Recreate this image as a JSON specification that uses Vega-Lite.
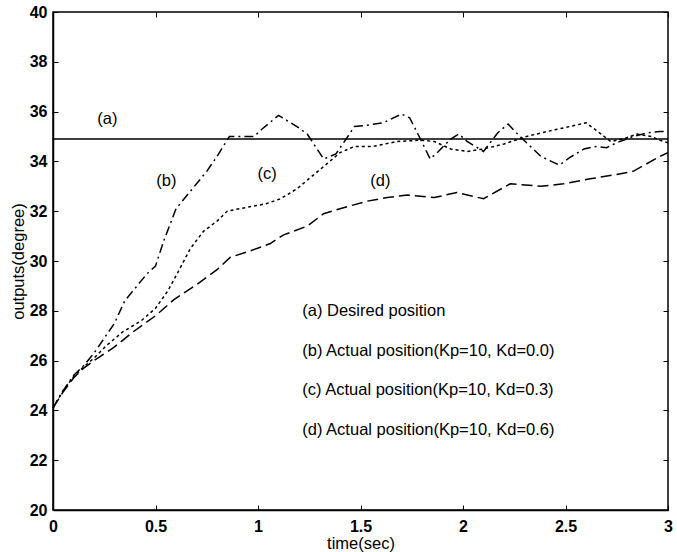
{
  "$schema": "https://vega.github.io/schema/vega-lite/v6.json",
  "autosize": "none",
  "width": 615,
  "height": 498,
  "padding": {"left": 53, "top": 12, "right": 9, "bottom": 42},
  "background": "white",
  "config": {
    "view": {"stroke": "black", "strokeWidth": 1.5},
    "font": "Liberation Sans",
    "axis": {
      "domainColor": "black", "domainWidth": 1.5,
      "tickColor": "black", "tickSize": -5, "tickWidth": 1,
      "labelColor": "black", "labelFont": "Liberation Sans", "labelFontSize": 16, "labelFontWeight": "bold",
      "titleColor": "black", "titleFont": "Liberation Sans", "titleFontSize": 16.5, "titleFontWeight": "normal",
      "grid": false
    }
  },
  "datasets": {
    "lines": [
      {"s": "a", "t": 0, "v": 34.9}, {"s": "a", "t": 3, "v": 34.9},
      {"s": "b", "t": 0, "v": 24.1}, {"s": "b", "t": 0.05, "v": 24.8}, {"s": "b", "t": 0.1, "v": 25.4}, {"s": "b", "t": 0.15, "v": 25.8}, {"s": "b", "t": 0.2, "v": 26.3}, {"s": "b", "t": 0.25, "v": 26.9}, {"s": "b", "t": 0.3, "v": 27.5}, {"s": "b", "t": 0.35, "v": 28.4}, {"s": "b", "t": 0.4, "v": 28.9}, {"s": "b", "t": 0.46, "v": 29.5}, {"s": "b", "t": 0.5, "v": 29.8}, {"s": "b", "t": 0.54, "v": 30.8}, {"s": "b", "t": 0.6, "v": 32.1}, {"s": "b", "t": 0.65, "v": 32.6}, {"s": "b", "t": 0.7, "v": 33.1}, {"s": "b", "t": 0.75, "v": 33.6}, {"s": "b", "t": 0.8, "v": 34.2}, {"s": "b", "t": 0.86, "v": 35.0}, {"s": "b", "t": 0.98, "v": 35.0}, {"s": "b", "t": 1.02, "v": 35.3}, {"s": "b", "t": 1.1, "v": 35.85}, {"s": "b", "t": 1.19, "v": 35.4}, {"s": "b", "t": 1.24, "v": 35.1}, {"s": "b", "t": 1.32, "v": 34.1}, {"s": "b", "t": 1.38, "v": 34.3}, {"s": "b", "t": 1.43, "v": 34.9}, {"s": "b", "t": 1.47, "v": 35.4}, {"s": "b", "t": 1.53, "v": 35.45}, {"s": "b", "t": 1.61, "v": 35.55}, {"s": "b", "t": 1.7, "v": 35.9}, {"s": "b", "t": 1.74, "v": 35.75}, {"s": "b", "t": 1.78, "v": 35.1}, {"s": "b", "t": 1.84, "v": 34.1}, {"s": "b", "t": 1.88, "v": 34.4}, {"s": "b", "t": 1.94, "v": 34.9}, {"s": "b", "t": 1.98, "v": 35.1}, {"s": "b", "t": 2.02, "v": 34.8}, {"s": "b", "t": 2.1, "v": 34.4}, {"s": "b", "t": 2.17, "v": 35.15}, {"s": "b", "t": 2.22, "v": 35.5}, {"s": "b", "t": 2.26, "v": 35.15}, {"s": "b", "t": 2.31, "v": 34.75}, {"s": "b", "t": 2.38, "v": 34.2}, {"s": "b", "t": 2.47, "v": 33.85}, {"s": "b", "t": 2.52, "v": 34.15}, {"s": "b", "t": 2.59, "v": 34.5}, {"s": "b", "t": 2.65, "v": 34.6}, {"s": "b", "t": 2.7, "v": 34.55}, {"s": "b", "t": 2.75, "v": 34.75}, {"s": "b", "t": 2.83, "v": 35.0}, {"s": "b", "t": 2.9, "v": 35.15}, {"s": "b", "t": 2.96, "v": 35.2}, {"s": "b", "t": 3.0, "v": 35.2},
      {"s": "c", "t": 0, "v": 24.1}, {"s": "c", "t": 0.05, "v": 24.8}, {"s": "c", "t": 0.1, "v": 25.35}, {"s": "c", "t": 0.15, "v": 25.75}, {"s": "c", "t": 0.2, "v": 26.1}, {"s": "c", "t": 0.26, "v": 26.6}, {"s": "c", "t": 0.34, "v": 27.15}, {"s": "c", "t": 0.43, "v": 27.6}, {"s": "c", "t": 0.5, "v": 28.1}, {"s": "c", "t": 0.56, "v": 28.8}, {"s": "c", "t": 0.6, "v": 29.4}, {"s": "c", "t": 0.67, "v": 30.5}, {"s": "c", "t": 0.735, "v": 31.2}, {"s": "c", "t": 0.8, "v": 31.6}, {"s": "c", "t": 0.85, "v": 32.0}, {"s": "c", "t": 0.91, "v": 32.1}, {"s": "c", "t": 1.04, "v": 32.3}, {"s": "c", "t": 1.11, "v": 32.5}, {"s": "c", "t": 1.19, "v": 32.9}, {"s": "c", "t": 1.27, "v": 33.45}, {"s": "c", "t": 1.35, "v": 34.0}, {"s": "c", "t": 1.4, "v": 34.35}, {"s": "c", "t": 1.47, "v": 34.6}, {"s": "c", "t": 1.56, "v": 34.6}, {"s": "c", "t": 1.68, "v": 34.8}, {"s": "c", "t": 1.79, "v": 34.85}, {"s": "c", "t": 1.86, "v": 34.8}, {"s": "c", "t": 1.94, "v": 34.5}, {"s": "c", "t": 2.02, "v": 34.4}, {"s": "c", "t": 2.1, "v": 34.5}, {"s": "c", "t": 2.2, "v": 34.7}, {"s": "c", "t": 2.31, "v": 35.0}, {"s": "c", "t": 2.41, "v": 35.2}, {"s": "c", "t": 2.52, "v": 35.4}, {"s": "c", "t": 2.6, "v": 35.55}, {"s": "c", "t": 2.65, "v": 35.25}, {"s": "c", "t": 2.72, "v": 34.8}, {"s": "c", "t": 2.78, "v": 34.9}, {"s": "c", "t": 2.85, "v": 35.1}, {"s": "c", "t": 2.92, "v": 35.0}, {"s": "c", "t": 2.96, "v": 34.85}, {"s": "c", "t": 3.0, "v": 34.75},
      {"s": "d", "t": 0, "v": 24.1}, {"s": "d", "t": 0.05, "v": 24.75}, {"s": "d", "t": 0.1, "v": 25.3}, {"s": "d", "t": 0.15, "v": 25.7}, {"s": "d", "t": 0.2, "v": 26.0}, {"s": "d", "t": 0.3, "v": 26.55}, {"s": "d", "t": 0.39, "v": 27.15}, {"s": "d", "t": 0.5, "v": 27.8}, {"s": "d", "t": 0.59, "v": 28.45}, {"s": "d", "t": 0.7, "v": 29.05}, {"s": "d", "t": 0.8, "v": 29.65}, {"s": "d", "t": 0.865, "v": 30.15}, {"s": "d", "t": 0.96, "v": 30.4}, {"s": "d", "t": 1.06, "v": 30.7}, {"s": "d", "t": 1.125, "v": 31.05}, {"s": "d", "t": 1.24, "v": 31.4}, {"s": "d", "t": 1.32, "v": 31.9}, {"s": "d", "t": 1.4, "v": 32.1}, {"s": "d", "t": 1.53, "v": 32.4}, {"s": "d", "t": 1.63, "v": 32.55}, {"s": "d", "t": 1.73, "v": 32.65}, {"s": "d", "t": 1.86, "v": 32.55}, {"s": "d", "t": 1.97, "v": 32.75}, {"s": "d", "t": 2.1, "v": 32.5}, {"s": "d", "t": 2.23, "v": 33.1}, {"s": "d", "t": 2.38, "v": 33.0}, {"s": "d", "t": 2.49, "v": 33.1}, {"s": "d", "t": 2.62, "v": 33.3}, {"s": "d", "t": 2.73, "v": 33.45}, {"s": "d", "t": 2.83, "v": 33.6}, {"s": "d", "t": 2.96, "v": 34.2}, {"s": "d", "t": 3.0, "v": 34.35}
    ],
    "labels": [
      {"t": 0.265, "v": 35.7, "label": "(a)"},
      {"t": 0.553, "v": 33.2, "label": "(b)"},
      {"t": 1.045, "v": 33.5, "label": "(c)"},
      {"t": 1.597, "v": 33.2, "label": "(d)"}
    ],
    "legend": [
      {"t": 1.216, "v": 28.0, "label": "(a) Desired position"},
      {"t": 1.216, "v": 26.4, "label": "(b) Actual position(Kp=10, Kd=0.0)"},
      {"t": 1.216, "v": 24.8, "label": "(c) Actual position(Kp=10, Kd=0.3)"},
      {"t": 1.216, "v": 23.2, "label": "(d) Actual position(Kp=10, Kd=0.6)"}
    ]
  },
  "layer": [
    {
      "data": {"name": "lines"},
      "mark": {"type": "line", "color": "black", "strokeWidth": 1.5},
      "encoding": {
        "x": {"field": "t", "type": "quantitative", "scale": {"domain": [0, 3], "nice": false, "zero": false},
              "axis": {"title": "time(sec)", "values": [0, 0.5, 1, 1.5, 2, 2.5, 3], "format": "~g", "labelPadding": 13, "titlePadding": 1, "labelFlush": false}},
        "y": {"field": "v", "type": "quantitative", "scale": {"domain": [20, 40], "nice": false, "zero": false},
              "axis": {"title": "outputs(degree)", "values": [20, 22, 24, 26, 28, 30, 32, 34, 36, 38, 40], "labelPadding": 11, "titlePadding": 3, "labelFlush": false}},
        "detail": {"field": "s"},
        "strokeDash": {"field": "s", "type": "nominal", "legend": null,
                       "scale": {"domain": ["a", "b", "c", "d"], "range": [[1, 0], [9, 4, 2, 4], [3, 3], [11, 5]]}}
      }
    },
    {
      "data": {"name": "labels"},
      "mark": {"type": "text", "align": "center", "baseline": "middle", "fontSize": 16.5, "font": "Liberation Sans", "color": "black"},
      "encoding": {
        "x": {"field": "t", "type": "quantitative", "axis": {"orient": "top", "labels": false, "title": null, "values": [0, 0.5, 1, 1.5, 2, 2.5, 3], "domain": false}},
        "y": {"field": "v", "type": "quantitative", "axis": {"orient": "right", "labels": false, "title": null, "values": [20, 22, 24, 26, 28, 30, 32, 34, 36, 38, 40], "domain": false}},
        "text": {"field": "label"}
      }
    },
    {
      "data": {"name": "legend"},
      "mark": {"type": "text", "align": "left", "baseline": "middle", "fontSize": 16.5, "font": "Liberation Sans", "color": "black"},
      "encoding": {
        "x": {"field": "t", "type": "quantitative", "axis": null},
        "y": {"field": "v", "type": "quantitative", "axis": null},
        "text": {"field": "label"}
      }
    }
  ],
  "resolve": {"axis": {"x": "independent", "y": "independent"}}
}
